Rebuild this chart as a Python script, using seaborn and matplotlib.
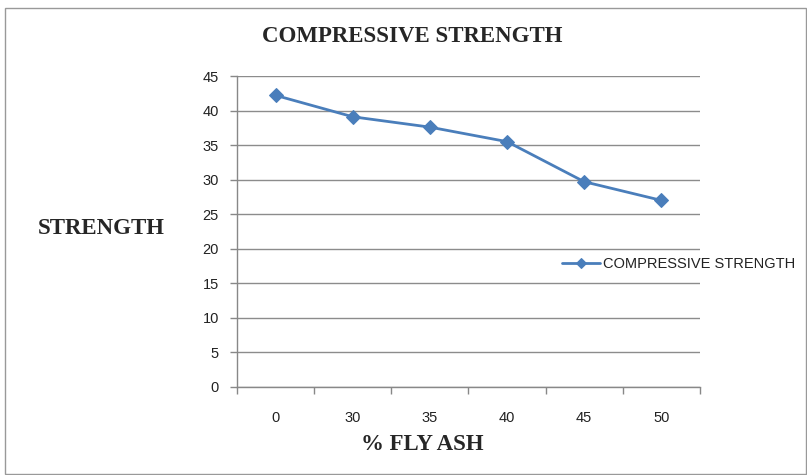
import matplotlib
matplotlib.use("Agg")
import matplotlib.pyplot as plt
import seaborn as sns
import pandas as pd
from matplotlib.patches import Rectangle
from matplotlib.ticker import FixedLocator, NullFormatter

fly_ash = ["0", "30", "35", "40", "45", "50"]
strength = [42.2, 39.1, 37.6, 35.5, 29.7, 27.0]
y_ticks = [0, 5, 10, 15, 20, 25, 30, 35, 40, 45]

sns.set_theme(style="white")
plt.rcParams['font.family'] = ['Liberation Sans', 'DejaVu Sans']

W, H = 807, 475
fig = plt.figure(figsize=(W / 100, H / 100), dpi=100)
ax = fig.add_axes([237 / W, 1 - 387 / H, (700 - 237) / W, (387 - 76) / H])

df = pd.DataFrame({"x": range(len(fly_ash)), "y": strength})
color = "#4A7EBB"
sns.lineplot(data=df, x="x", y="y", ax=ax, color=color, marker="D", markersize=7,
             markeredgecolor=color, linewidth=2, label="COMPRESSIVE STRENGTH")

ax.set_xlim(-0.5, len(fly_ash) - 0.5)
ax.set_ylim(0, 45)
ax.set_yticks(y_ticks)
ax.set_yticklabels([str(v) for v in y_ticks], fontsize=10.5, color="#222222")
ax.xaxis.set_major_locator(FixedLocator([i - 0.5 for i in range(len(fly_ash) + 1)]))
ax.xaxis.set_major_formatter(NullFormatter())
ax.xaxis.set_minor_locator(FixedLocator(list(range(len(fly_ash)))))
ax.set_xticklabels(fly_ash, minor=True, fontsize=10.5, color="#222222")
ax.tick_params(axis="x", which="major", length=5, width=1, color="#888888", direction="out", bottom=True)
ax.tick_params(axis="x", which="minor", length=0, pad=17)
ax.tick_params(axis="y", length=5, width=1, color="#888888", direction="out", left=True, pad=8)
ax.grid(axis="y", color="#8c8c8c", linewidth=1)
ax.grid(axis="x", visible=False)
for s in ["top", "right"]:
    ax.spines[s].set_visible(False)
for s in ["left", "bottom"]:
    ax.spines[s].set_color("#888888")
    ax.spines[s].set_linewidth(1)
ax.set_xlabel("")
ax.set_ylabel("")

leg = ax.legend(loc="center left", bbox_to_anchor=(555 / W, 1 - 264 / H), bbox_transform=fig.transFigure,
                frameon=False, fontsize=10.5, handlelength=2.6, handletextpad=0.2, borderpad=0,
                markerscale=0.75)
for t in leg.get_texts():
    t.set_color("#222222")

fig.text(412 / W, 1 - 37 / H, "COMPRESSIVE STRENGTH", ha="center", va="center",
         fontsize=16.5, fontweight="bold", family="Liberation Serif")
fig.text(101 / W, 1 - 228 / H, "STRENGTH", ha="center", va="center",
         fontsize=16.5, fontweight="bold", family="Liberation Serif")
fig.text(422 / W, 1 - 445 / H, "% FLY ASH", ha="center", va="center",
         fontsize=16.5, fontweight="bold", family="Liberation Serif")

fig.patches.append(Rectangle((5 / W, 0.003), (W - 6) / W, 1 - 8 / H - 0.003, transform=fig.transFigure,
                             fill=False, edgecolor="#999999", linewidth=1))

fig.savefig("out.png", dpi=100)
